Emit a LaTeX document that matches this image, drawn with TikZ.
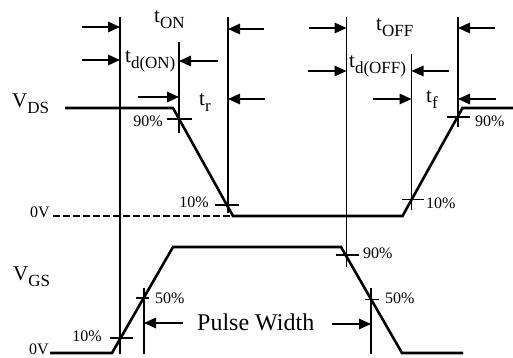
\documentclass[tikz,border=0pt]{standalone}
\usepackage{fontspec}
\setmainfont{Liberation Serif}
\usetikzlibrary{arrows.meta,calc}
\newcommand{\sarrow}{-{Triangle[length=12pt,width=10.5pt]}}
\newcommand{\tsub}[2]{{\fontsize{21}{21}\selectfont #1}\raisebox{-6pt}{\fontsize{17}{17}\selectfont #2}}

\begin{document}
\begin{tikzpicture}[x=1pt,y=-1pt,
    wave/.style={line width=2.6pt},
    mark line/.style={line width=1.8pt},
    dim/.style={line width=1.7pt,\sarrow},
    pct/.style={inner sep=0pt,font=\fontsize{16}{16}\selectfont},
    big/.style={inner sep=0pt}]
            \useasboundingbox (0,0) rectangle (513,358);
            % V_DS waveform
            \coordinate (ds0) at (65,108);
            \coordinate (ds1) at (173,108);
            \coordinate (ds2) at (233,216);
            \coordinate (ds3) at (402.5,216);
            \coordinate (ds4) at (462.5,108);
            \coordinate (ds5) at (513,108);
            \coordinate (zero) at (53,216);
            \draw[wave] (ds0) -- (ds1) -- (ds2) -- (ds3) -- (ds4) -- (ds5);
            \draw[line width=1.6pt,dash pattern=on 6.5pt off 3.5pt] (zero) -- (ds2);
            % V_GS waveform
            \coordinate (gs0) at (50,353);
            \coordinate (gs1) at (112,353);
            \coordinate (gs2) at (173,247);
            \coordinate (gs3) at (341,247);
            \coordinate (gs4) at (402,353);
            \coordinate (gs5) at (463,353);
            \draw[wave] (gs0) -- (gs1) -- (gs2) -- (gs3) -- (gs4) -- (gs5);
            % time markers
            \coordinate (L1t) at (120,17);   \coordinate (L1b) at (120,354);
            \coordinate (L2t) at (179,42);   \coordinate (L2b) at (179,133);
            \coordinate (L3t) at (228,17);   \coordinate (L3b) at (228,213);
            \coordinate (L4t) at (346.5,17); \coordinate (L4b) at (346.5,267);
            \coordinate (L5t) at (411.5,54); \coordinate (L5b) at (411.5,210);
            \coordinate (L6t) at (458,17);   \coordinate (L6b) at (458,127);
            \coordinate (L7t) at (144,288);  \coordinate (L7b) at (144,354);
            \coordinate (L8t) at (371,288);  \coordinate (L8b) at (371,354);
            \foreach \l in {L1,L2,L3,L4,L5,L6,L7,L8}
                \draw[mark line] (\l t) -- (\l b);
            % level ticks
            \draw[mark line] (179,119) ++(-12,0) -- ++(25,0);
            \draw[mark line] (228,205) ++(-13,0) -- ++(24,0);
            \draw[mark line] (411.5,199.5) ++(-10,0) -- ++(22,0);
            \draw[mark line] (458,117) ++(-11,0) -- ++(23,0);
            \draw[mark line] (120,338) ++(-10,0) -- ++(23,0);
            \draw[mark line] (144,298) ++(-8,0) -- ++(13,0);
            \draw[mark line] (346.5,255) ++(-11,0) -- ++(23,0);
            \draw[mark line] (371,299.5) ++(-6,0) -- ++(14,0);
            % dimension arrows
            \coordinate (on1) at (82,27);
            \coordinate (on2) at (264,29);
            \coordinate (don1) at (82,60);
            \coordinate (don2) at (218,61);
            \coordinate (r1) at (138,97);
            \coordinate (r2) at (265,99);
            \coordinate (off1) at (309,28);
            \coordinate (off2) at (495,28);
            \coordinate (doff1) at (308,71);
            \coordinate (doff2) at (449,71);
            \coordinate (f1) at (373,99);
            \coordinate (f2) at (496,99);
            \coordinate (pw1) at (183,323);
            \coordinate (pw2) at (332,324);
            \draw[dim] (on1) -- (on1 -| L1t);
            \draw[dim] (on2) -- (on2 -| L3t);
            \draw[dim] (don1) -- (don1 -| L1t);
            \draw[dim] (don2) -- (don2 -| L2t);
            \draw[dim] (r1) -- (r1 -| L2t);
            \draw[dim] (r2) -- (r2 -| L3t);
            \draw[dim] (off1) -- (off1 -| L4t);
            \draw[dim] (off2) -- (off2 -| L6t);
            \draw[dim] (doff1) -- (doff1 -| L4t);
            \draw[dim] (doff2) -- (doff2 -| L5t);
            \draw[dim] (f1) -- (f1 -| L5t);
            \draw[dim] (f2) -- (f2 -| L6t);
            \draw[dim] (pw1) -- (pw1 -| L7t);
            \draw[dim] (pw2) -- (pw2 -| L8t);
            % labels
            \node[big,anchor=base west] (ton) at (154,23) {\tsub{t}{ON}};
            \node[big,anchor=base west] (tdon) at (125,63) {\tsub{t}{d(ON)}};
            \node[big,anchor=base west] (tr) at (199,106) {\tsub{t}{r}};
            \node[big,anchor=base west] (toff) at (376,31) {\tsub{t}{OFF}};
            \node[big,anchor=base west] (tdoff) at (349,68) {\tsub{t}{d(OFF)}};
            \node[big,anchor=base west] (tf) at (426,103) {\tsub{t}{f}};
            \node[big,anchor=base west] (vds) at (12,108) {\tsub{V}{DS}};
            \node[big,anchor=base west] (vgs) at (13,280) {\tsub{V}{GS}};
            \node[big,anchor=base west,font=\fontsize{24}{24}\selectfont] (pw) at (197,330) {Pulse Width};
            \node[pct,anchor=base east] (d90) at (163,127) {90\%};
            \node[pct,anchor=base east] (d10) at (209,207) {10\%};
            \node[pct,anchor=base west] (u10) at (426,208) {10\%};
            \node[pct,anchor=base west] (u90) at (475,127) {90\%};
            \node[pct,anchor=base east] (zds) at (50,217) {0V};
            \node[pct,anchor=base east] (zgs) at (49,354) {0V};
            \node[pct,anchor=base east] (g10) at (102,341) {10\%};
            \node[pct,anchor=base west] (g50a) at (155,303) {50\%};
            \node[pct,anchor=base west] (g90) at (363,258) {90\%};
            \node[pct,anchor=base west] (g50b) at (385,303) {50\%};
\end{tikzpicture}
\end{document}
